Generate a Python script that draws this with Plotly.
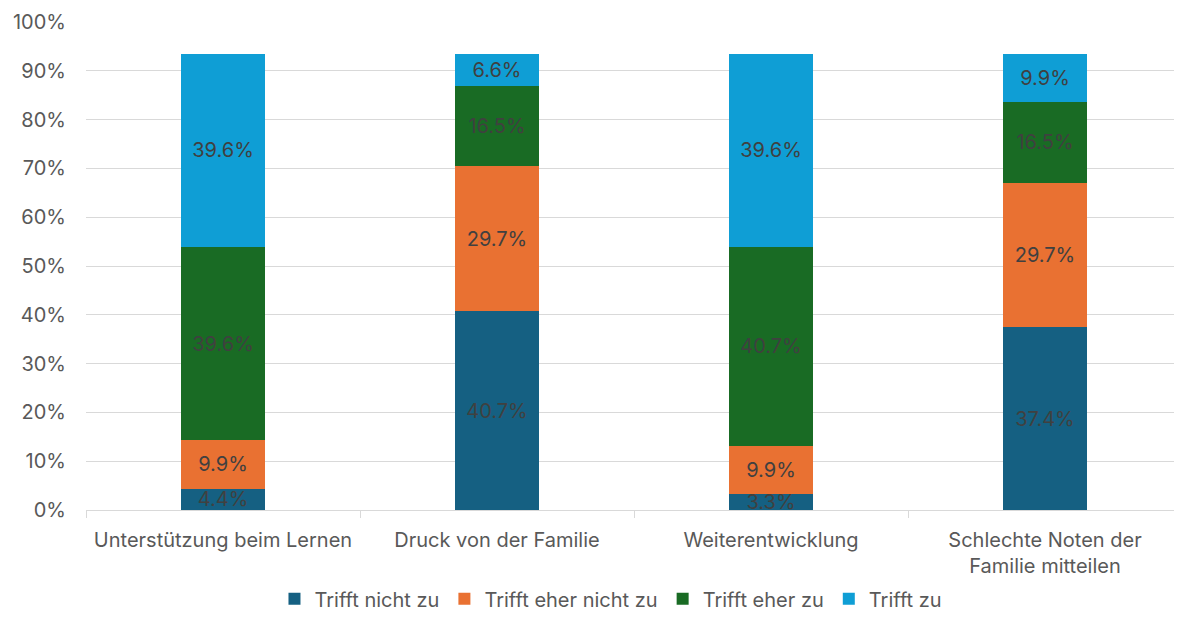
import plotly.graph_objects as go

categories = ['Unterstützung beim Lernen', 'Druck von der Familie',
              'Weiterentwicklung', 'Schlechte Noten der<br>Familie mitteilen']
series_names = ['Trifft nicht zu', 'Trifft eher nicht zu', 'Trifft eher zu', 'Trifft zu']
trifft_nicht_zu = [4.4, 40.7, 3.3, 37.4]
trifft_eher_nicht_zu = [9.9, 29.7, 9.9, 29.7]
trifft_eher_zu = [39.6, 16.5, 40.7, 16.5]
trifft_zu = [39.6, 6.6, 39.6, 9.9]
y_ticks = [0, 10, 20, 30, 40, 50, 60, 70, 80, 90, 100]

colors = ['#156082', '#E97132', '#196B24', '#0F9ED5']
text_color = '#404040'
axis_color = '#595959'
font_family = 'Inter, Open Sans, sans-serif'

fig = go.Figure()

for name, values, color in zip(series_names,
                               [trifft_nicht_zu, trifft_eher_nicht_zu, trifft_eher_zu, trifft_zu],
                               colors):
  fig.add_trace(go.Bar(
    x=categories,
    y=values,
    name=name,
    marker=dict(color=color, line=dict(width=0)),
    text=[f'{v:.1f}%' for v in values],
    textposition='inside',
    insidetextanchor='middle',
    textfont=dict(size=20, color=text_color, family=font_family),
    hoverinfo='skip',
  ))

# page body has an 8px margin, so the figure is shrunk and shifted to match
fig.update_layout(
  barmode='stack',
  bargap=0.69,
  width=1174,
  height=611,
  margin=dict(l=78, r=0, t=14, b=109, autoexpand=False),
  paper_bgcolor='white',
  plot_bgcolor='white',
  font=dict(family=font_family, color=axis_color, size=20),
  uniformtext=dict(mode='show', minsize=20),
  showlegend=True,
  legend=dict(
    orientation='h',
    x=0.479,
    xanchor='center',
    y=-0.222,
    yanchor='bottom',
    font=dict(size=20, color=axis_color),
    itemwidth=30,
    traceorder='normal',
  ),
)

fig.update_xaxes(
  showline=True,
  linecolor='#d9d9d9',
  linewidth=1,
  ticks='outside',
  tickson='boundaries',
  ticklen=7,
  tickcolor='#d9d9d9',
  tickfont=dict(size=20, color=axis_color),
  ticklabelstandoff=12,
  automargin=False,
)

fig.update_yaxes(
  range=[0, 100],
  tickvals=y_ticks,
  ticktext=[f'{t}%' for t in y_ticks],
  gridcolor='#d9d9d9',
  gridwidth=1,
  zeroline=False,
  tickfont=dict(size=20, color=axis_color),
  ticks='',
  ticklabelstandoff=19,
  automargin=False,
)

fig.write_html('out.html')
